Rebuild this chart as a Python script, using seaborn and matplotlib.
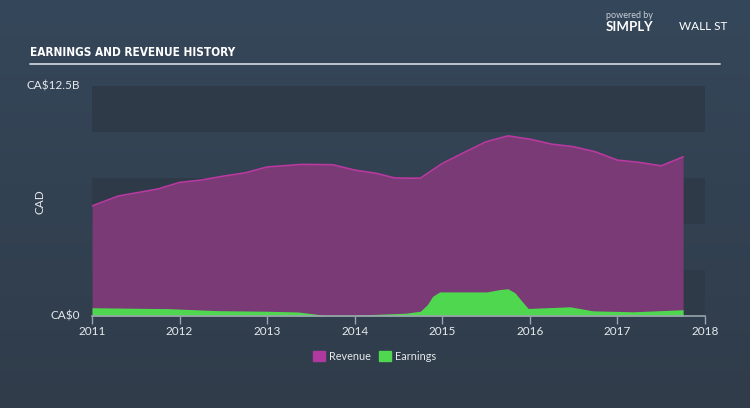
import numpy as np
import pandas as pd
import matplotlib
matplotlib.use("Agg")
import matplotlib.pyplot as plt
import seaborn as sns
from matplotlib.colors import LinearSegmentedColormap

# ---- data (CA$ billions) ----
rev_years = [2011.0, 2011.3, 2011.75, 2012.0, 2012.25, 2012.5, 2012.75, 2013.0, 2013.4,
             2013.75, 2014.0, 2014.25, 2014.45, 2014.58, 2014.75, 2015.0, 2015.25, 2015.5,
             2015.75, 2016.0, 2016.25, 2016.5, 2016.75, 2017.0, 2017.25, 2017.5, 2017.75]
revenue = [5.98, 6.52, 6.90, 7.26, 7.39, 7.60, 7.78, 8.10, 8.24,
           8.22, 7.93, 7.75, 7.51, 7.49, 7.49, 8.29, 8.89, 9.47,
           9.79, 9.61, 9.34, 9.20, 8.92, 8.47, 8.35, 8.16, 8.65]

earn_years = [2011.0, 2011.87, 2012.44, 2012.98, 2013.35, 2013.66, 2013.97, 2014.35, 2014.58,
              2014.75, 2014.83, 2014.89, 2014.97, 2015.51, 2015.66, 2015.75, 2015.83, 2015.91,
              2015.98, 2016.46, 2016.72, 2017.18, 2017.75]
earnings = [0.45, 0.40, 0.29, 0.26, 0.22, 0.04, 0.04, 0.11, 0.15,
            0.26, 0.62, 1.07, 1.31, 1.31, 1.44, 1.48, 1.26, 0.80,
            0.41, 0.50, 0.28, 0.23, 0.34]

year_ticks = [2011, 2012, 2013, 2014, 2015, 2016, 2017, 2018]
y_labels = ["CA\\$0", "CA\\$12.5B"]
series_names = ["Revenue", "Earnings"]

rev_df = pd.DataFrame({"year": rev_years, "value": revenue})
earn_df = pd.DataFrame({"year": earn_years, "value": earnings})

# ---- style ----
BG = "#344354"
BAND = "#2e3a48"
REV_FILL = "#7a3a75"
REV_LINE = "#b8399f"
EARN = "#4fd84f"
TXT = "#e6e9ec"

sns.set_theme(style="white")
plt.rcParams["font.family"] = ["Lato", "DejaVu Sans"]

fig = plt.figure(figsize=(7.5, 4.08), dpi=100)
fig.patch.set_facecolor(BG)

# background gradient
bg_ax = fig.add_axes([0, 0, 1, 1], zorder=-10)
grad = np.linspace(0, 1, 256).reshape(-1, 1)
cm = LinearSegmentedColormap.from_list("bg", ["#35475a", "#303c4a"])
bg_ax.imshow(grad, aspect="auto", cmap=cm, extent=[0, 1, 0, 1])
bg_ax.axis("off")

ax = fig.add_axes([92 / 750, 92 / 408, 613 / 750, 230 / 408])
ax.set_facecolor("none")
ax.set_xlim(2011, 2018)
ax.set_ylim(0, 12.5)

# alternating bands
for lo in [0, 5, 10]:
    ax.axhspan(lo, lo + 2.5, color=BAND, zorder=0, lw=0)

ax.fill_between(rev_df["year"], 0, rev_df["value"], color=REV_FILL, lw=0, zorder=2)
sns.lineplot(data=rev_df, x="year", y="value", ax=ax, color=REV_LINE, lw=1.2, zorder=3)
ax.fill_between(earn_df["year"], 0, earn_df["value"], color=EARN, lw=0, zorder=4)

ax.set_xlabel("")
ax.set_ylabel("")
for s in ["top", "right", "left"]:
    ax.spines[s].set_visible(False)
ax.spines["bottom"].set_color("#9aa4af")
ax.spines["bottom"].set_linewidth(1.2)
ax.spines["bottom"].set_zorder(6)
ax.set_xticks(year_ticks)
ax.set_xticklabels([str(y) for y in year_ticks])
ax.tick_params(axis="x", colors="#9aa4af", length=6, width=1, direction="out",
               labelcolor=TXT, labelsize=8.5, pad=1, bottom=True)
ax.set_yticks([])

# y labels
fig.text(80 / 750, 1 - 316 / 408, y_labels[0], ha="right", va="center", color=TXT, fontsize=8.5)
fig.text(80 / 750, 1 - 86 / 408, y_labels[1], ha="right", va="center", color=TXT, fontsize=8.5)
fig.text(40 / 750, 1 - 202 / 408, "CAD", ha="center", va="center", rotation=90, color=TXT, fontsize=8.5)

# title and rule
fig.text(30 / 750, 1 - 52 / 408, "EARNINGS AND REVENUE HISTORY",
         family=["DejaVu Sans"], fontstretch="condensed", fontweight="bold",
         color="white", fontsize=8.5, va="center", ha="left")
fig.add_artist(plt.Line2D([30 / 750, 720 / 750], [1 - 64 / 408, 1 - 64 / 408],
                          color="#c9cfd6", lw=1.3))

# logo text
fig.text(606 / 750, 1 - 15 / 408, "powered by", color="#c9cfd6", fontsize=6.5, ha="left", va="center")
fig.text(606 / 750, 1 - 27 / 408, "SIMPLY", color="white", fontsize=9.5, fontweight="bold", ha="left", va="center")
fig.text(679 / 750, 1 - 27 / 408, "WALL ST", color="white", fontsize=8.5, ha="left", va="center")

# legend
sq = 12
for name, col, x0, tx in [(series_names[0], "#b0399f", 313, 329), (series_names[1], EARN, 379, 395)]:
    fig.patches.append(plt.Rectangle((x0 / 750, 1 - 361 / 408), sq / 750, 10 / 408,
                                     transform=fig.transFigure, color=col, figure=fig))
    fig.text(tx / 750, 1 - 356 / 408, name, color=TXT, fontsize=7.8, ha="left", va="center")

fig.savefig("out.png", dpi=100, facecolor=fig.get_facecolor())
